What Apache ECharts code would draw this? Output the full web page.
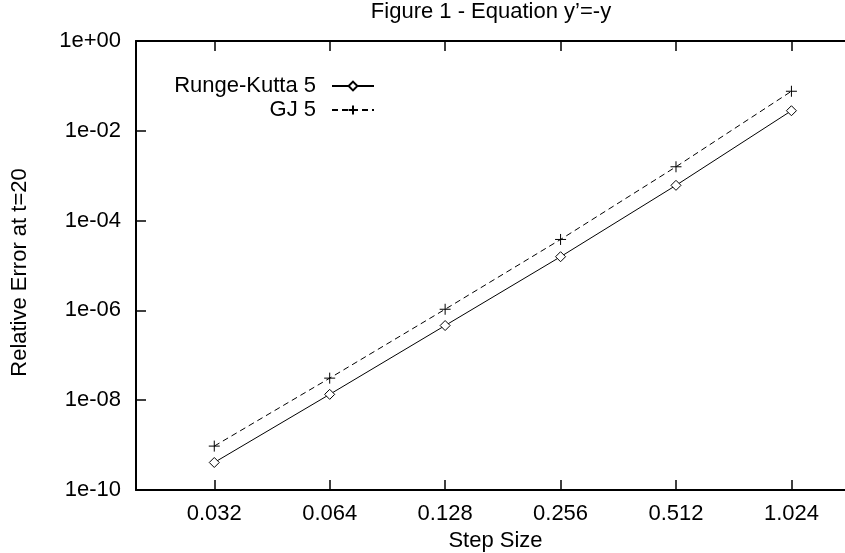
<!DOCTYPE html>
<html>
<head>
<meta charset="utf-8">
<script src="https://cdn.jsdelivr.net/npm/echarts@6/dist/echarts.min.js"></script>
<style>html,body{margin:0;padding:0;background:#fff;}#c{width:845px;height:553px;}</style>
</head>
<body>
<div id="c"></div>
<script>
const steps = [0.032, 0.064, 0.128, 0.256, 0.512, 1.024];
const xTickLabels = ['0.032', '0.064', '0.128', '0.256', '0.512', '1.024'];
const rk5 = [4.1e-10, 1.35e-8, 4.6e-7, 1.57e-5, 6.1e-4, 2.8e-2];
const gj5 = [9.5e-10, 3.1e-8, 1.06e-6, 3.8e-5, 1.58e-3, 7.6e-2];
const yTickLabels = ['1e-10', '1e-08', '1e-06', '1e-04', '1e-02', '1e+00'];

const FONT = "'Liberation Sans', Arial, sans-serif";
const xMin = Math.log2(0.02), xMax = Math.log2(1.5);
const xTicks = steps.map(s => Math.log2(s));

function xFmt(v) {
  let best = 0, d = Infinity;
  xTicks.forEach((t, i) => { if (Math.abs(t - v) < d) { d = Math.abs(t - v); best = i; } });
  return xTickLabels[best];
}
function yFmt(v) {
  const e = Math.round(Math.log10(v));
  const idx = (e + 10) / 2;
  return yTickLabels[idx] !== undefined ? yTickLabels[idx] : '';
}

const chart = echarts.init(document.getElementById('c'), null, {renderer: 'canvas'});
const axisLineStyle = {color: '#000', width: 2};
const tickStyle = {color: '#000', width: 1.5};

const option = {
  animation: false,
  backgroundColor: '#fff',
  textStyle: {fontFamily: FONT, color: '#000'},
  title: {
    text: "Figure 1 - Equation y\u2019=-y",
    left: 491, top: 1, padding: 0, textAlign: 'center',
    textStyle: {fontFamily: FONT, fontSize: 22, fontWeight: 'normal', color: '#000'}
  },
  legend: [
    {data: ['Runge-Kutta 5'], right: 470, top: 75, padding: 0, align: 'right', orient: 'vertical',
     itemWidth: 42, itemHeight: 11, selectedMode: false,
     textStyle: {fontFamily: FONT, fontSize: 22, color: '#000', padding: [0, 11, 0, 0]}},
    {data: ['GJ 5'], right: 470, top: 99, padding: 0, align: 'right', orient: 'vertical',
     itemWidth: 42, itemHeight: 11, selectedMode: false,
     textStyle: {fontFamily: FONT, fontSize: 22, color: '#000', padding: [0, 11, 0, 0]}}
  ],
  grid: {left: 136, top: 41, right: -10, bottom: 63, containLabel: false, outerBoundsMode: 'none', show: false},
  xAxis: [
    {
      type: 'value', min: xMin, max: xMax, position: 'bottom',
      name: 'Step Size', nameLocation: 'middle', nameGap: 28,
      nameTextStyle: {fontFamily: FONT, fontSize: 22, color: '#000'},
      axisLine: {show: true, lineStyle: axisLineStyle},
      axisTick: {show: true, inside: true, length: 10, lineStyle: tickStyle, customValues: xTicks},
      axisLabel: {show: true, customValues: xTicks, formatter: xFmt, margin: 13,
                  fontFamily: FONT, fontSize: 22, color: '#000'},
      splitLine: {show: false}
    },
    {
      type: 'value', min: xMin, max: xMax, position: 'top',
      axisLine: {show: true, onZero: false, lineStyle: axisLineStyle},
      axisTick: {show: true, inside: true, length: 10, lineStyle: tickStyle, customValues: xTicks},
      axisLabel: {show: false},
      splitLine: {show: false}
    }
  ],
  yAxis: [
    {
      type: 'log', logBase: 10, min: 1e-10, max: 1, interval: 2, position: 'left',
      name: 'Relative Error at t=20', nameLocation: 'middle', nameGap: 105, nameRotate: 90,
      nameTextStyle: {fontFamily: FONT, fontSize: 22, color: '#000', padding: [0, 14, 0, 0]},
      axisLine: {show: true, onZero: false, lineStyle: axisLineStyle},
      axisTick: {show: true, inside: true, length: 10, lineStyle: tickStyle},
      minorTick: {show: false},
      axisLabel: {show: true, formatter: yFmt, margin: 15, fontFamily: FONT, fontSize: 22, color: '#000'},
      splitLine: {show: false}
    },
    {
      type: 'log', logBase: 10, min: 1e-10, max: 1, interval: 2, position: 'right',
      axisLine: {show: true, onZero: false, lineStyle: axisLineStyle},
      axisTick: {show: true, inside: true, length: 10, lineStyle: tickStyle},
      axisLabel: {show: false},
      splitLine: {show: false}
    }
  ],
  series: [
    {
      name: 'Runge-Kutta 5', type: 'line', xAxisIndex: 0, yAxisIndex: 0,
      data: steps.map((s, i) => [Math.log2(s), rk5[i]]),
      symbol: 'diamond', symbolSize: 10, showAllSymbol: true,
      itemStyle: {color: '#fff', borderColor: '#000', borderWidth: 1},
      lineStyle: {color: '#000', width: 1, type: 'solid'},
      emphasis: {disabled: true}, z: 3
    },
    {
      name: 'GJ 5', type: 'line', xAxisIndex: 0, yAxisIndex: 0,
      data: steps.map((s, i) => [Math.log2(s), gj5[i]]),
      symbol: 'path://M0,5L10,5M5,0L5,10', symbolSize: 11, showAllSymbol: true,
      itemStyle: {color: 'none', borderColor: '#000', borderWidth: 1},
      lineStyle: {color: '#000', width: 1, type: [6, 4]},
      emphasis: {disabled: true}, z: 3
    }
  ]
};
chart.setOption(option);
</script>
</body>
</html>
